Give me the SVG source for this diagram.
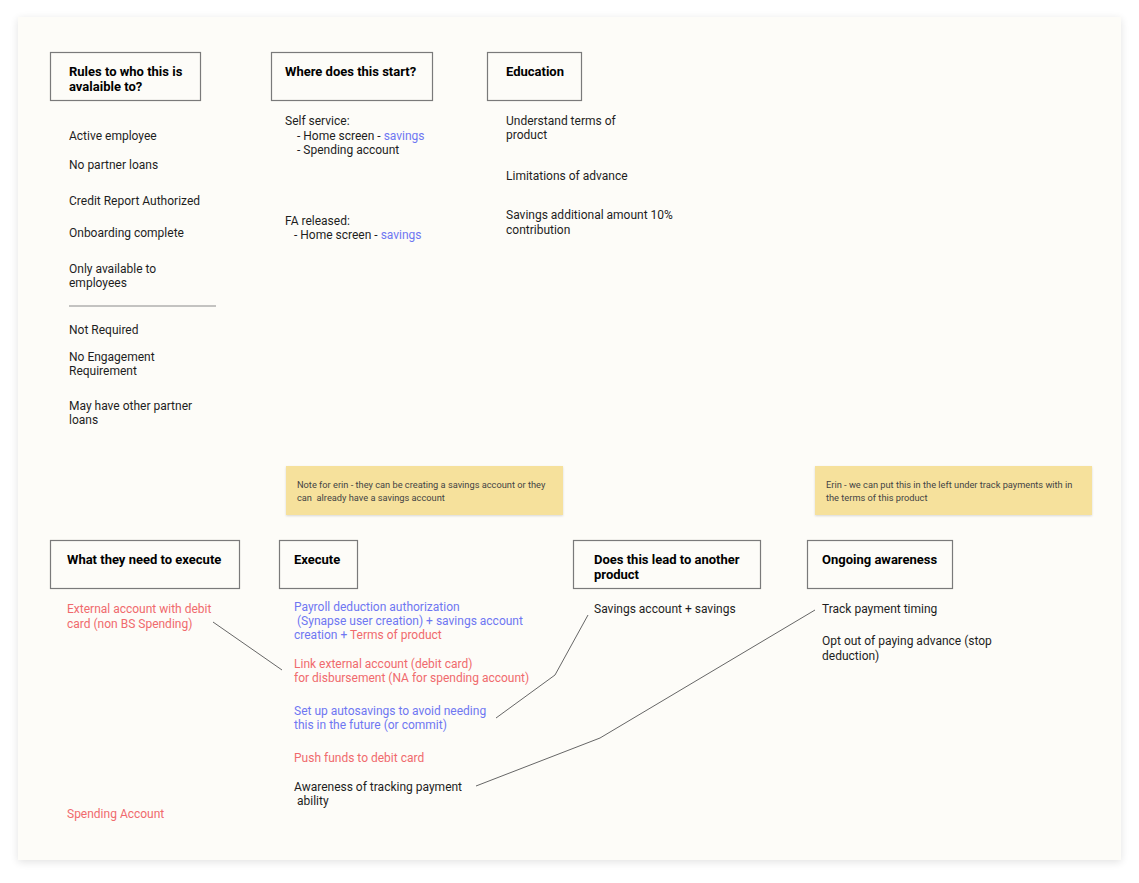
<svg xmlns="http://www.w3.org/2000/svg" width="1139" height="883" viewBox="0 0 1139 883">
<defs>
<filter id="sh" x="-5%" y="-5%" width="110%" height="110%">
<feGaussianBlur in="SourceAlpha" stdDeviation="4"/>
<feOffset dy="2"/>
<feComponentTransfer><feFuncA type="linear" slope="0.12"/></feComponentTransfer>
<feMerge><feMergeNode/><feMergeNode in="SourceGraphic"/></feMerge>
</filter>
<filter id="nsh" x="-5%" y="-10%" width="110%" height="125%">
<feGaussianBlur in="SourceAlpha" stdDeviation="1"/>
<feOffset dy="1"/>
<feComponentTransfer><feFuncA type="linear" slope="0.15"/></feComponentTransfer>
<feMerge><feMergeNode/><feMergeNode in="SourceGraphic"/></feMerge>
</filter>
</defs>
<style>
text{font-family:Roboto,"Liberation Sans",sans-serif;font-size:12px;fill:#1e1e1e}
.h{font-weight:bold;font-size:13px;fill:#000}
.box{fill:none;stroke:#7a7a7a;stroke-width:1.2}
.b{fill:#6f77f2}
.r{fill:#f06a6d}
.note{fill:#f6e19c}
.nt{font-size:9.25px;fill:#444}
.con{fill:none;stroke:#666;stroke-width:1}
</style>
<rect width="1139" height="883" fill="#ffffff"/>
<rect x="18" y="17" width="1103" height="843" fill="#fdfcf8" filter="url(#sh)"/>

<g id="rules">
<rect class="box" x="50.5" y="52.5" width="150" height="48"/>
<text class="h" x="69" y="76">Rules to who this is</text>
<text class="h" x="69" y="91">avalaible to?</text>
<text x="69" y="140">Active employee</text>
<text x="69" y="169">No partner loans</text>
<text x="69" y="205">Credit Report Authorized</text>
<text x="69" y="237">Onboarding complete</text>
<text x="69" y="273">Only available to</text>
<text x="69" y="287">employees</text>
<line x1="69" y1="306" x2="216" y2="306" stroke="#8a8a8a" stroke-width="1"/>
<text x="69" y="334">Not Required</text>
<text x="69" y="361">No Engagement</text>
<text x="69" y="375">Requirement</text>
<text x="69" y="410">May have other partner</text>
<text x="69" y="424">loans</text>
</g>

<g id="where">
<rect class="box" x="271.5" y="52.5" width="161" height="48"/>
<text class="h" x="285" y="76">Where does this start?</text>
<text x="285" y="125">Self service:</text>
<text x="297" y="140">- Home screen - <tspan class="b">savings</tspan></text>
<text x="297" y="154">- Spending account</text>
<text x="285" y="225">FA released:</text>
<text x="294" y="239">- Home screen - <tspan class="b">savings</tspan></text>
</g>

<g id="education">
<rect class="box" x="487.5" y="52.5" width="94" height="48"/>
<text class="h" x="506" y="76">Education</text>
<text x="506" y="125">Understand terms of</text>
<text x="506" y="139">product</text>
<text x="506" y="180">Limitations of advance</text>
<text x="506" y="219">Savings additional amount 10%</text>
<text x="506" y="234">contribution</text>
</g>

<g id="note1">
<rect class="note" x="286" y="466" width="277" height="49" filter="url(#nsh)"/>
<text class="nt" x="297" y="488">Note for erin - they can be creating a savings account or they</text>
<text class="nt" x="297" y="501" xml:space="preserve">can  already have a savings account</text>
</g>

<g id="note2">
<rect class="note" x="815" y="466" width="277" height="49" filter="url(#nsh)"/>
<text class="nt" x="826" y="488">Erin - we can put this in the left under track payments with in</text>
<text class="nt" x="826" y="501">the terms of this product</text>
</g>

<g id="need">
<rect class="box" x="50.5" y="540.5" width="189" height="48"/>
<text class="h" x="67" y="564">What they need to execute</text>
<text class="r" x="67" y="613">External account with debit</text>
<text class="r" x="67" y="628">card (non BS Spending)</text>
<text class="r" x="67" y="818">Spending Account</text>
</g>

<g id="execute">
<rect class="box" x="279.5" y="540.5" width="78" height="48"/>
<text class="h" x="294" y="564">Execute</text>
<text class="b" x="294" y="611">Payroll deduction authorization</text>
<text class="b" x="294" y="625" xml:space="preserve"> (Synapse user creation) + savings account</text>
<text class="b" x="294" y="639">creation + <tspan class="r">Terms of product</tspan></text>
<text class="r" x="294" y="668">Link external account (debit card)</text>
<text class="r" x="294" y="682">for disbursement (NA for spending account)</text>
<text class="b" x="294" y="715">Set up autosavings to avoid needing</text>
<text class="b" x="294" y="729">this in the future (or commit)</text>
<text class="r" x="294" y="762">Push funds to debit card</text>
<text x="294" y="791">Awareness of tracking payment</text>
<text x="294" y="805" xml:space="preserve"> ability</text>
</g>

<g id="lead">
<rect class="box" x="573.5" y="540.5" width="187" height="48"/>
<text class="h" x="594" y="564">Does this lead to another</text>
<text class="h" x="594" y="579">product</text>
<text x="594" y="613">Savings account + savings</text>
</g>

<g id="ongoing">
<rect class="box" x="807.5" y="540.5" width="145" height="48"/>
<text class="h" x="822" y="564">Ongoing awareness</text>
<text x="822" y="613">Track payment timing</text>
<text x="822" y="645">Opt out of paying advance (stop</text>
<text x="822" y="660">deduction)</text>
</g>

<g id="connectors">
<polyline class="con" points="213,622 282,670"/>
<polyline class="con" points="496,718 555,675 588,615"/>
<polyline class="con" points="476,786 600,738 815,610"/>
</g>
</svg>
